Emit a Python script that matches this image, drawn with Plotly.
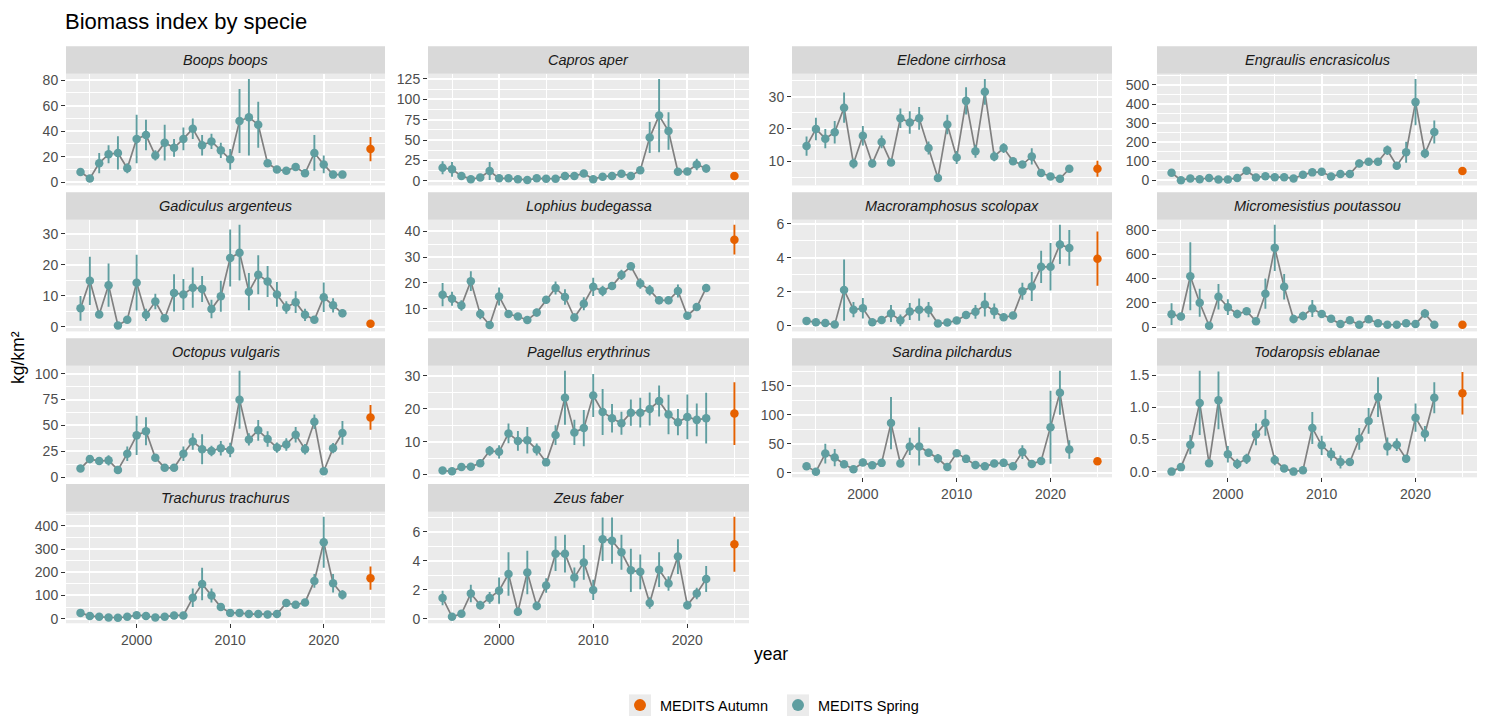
import plotly.graph_objects as go

years = list(range(1994, 2023))
autumn_year = 2025

species = ["Boops boops", "Capros aper", "Eledone cirrhosa", "Engraulis encrasicolus",
           "Gadiculus argenteus", "Lophius budegassa", "Macroramphosus scolopax", "Micromesistius poutassou",
           "Octopus vulgaris", "Pagellus erythrinus", "Sardina pilchardus", "Todaropsis eblanae",
           "Trachurus trachurus", "Zeus faber"]

boops_mean = [8, 3, 15, 22, 23, 11, 34, 37, 21, 31, 27, 34, 42, 29, 32, 25, 18, 48, 51, 45, 15, 10, 9, 12, 7, 23, 14, 6, 6]
boops_err = [2, 1.5, 8, 7, 13, 4, 19, 12, 4, 14, 7, 9, 8, 8, 6, 6, 8, 25, 30, 18, 2, 2, 2, 3, 2, 14, 7, 1, 1]
capros_mean = [16, 14, 6, 2, 4, 12, 3, 3, 2, 1, 3, 2.5, 2.5, 6, 6, 9, 2, 5, 6, 8.6, 6, 13, 53, 80, 61, 11, 11.5, 20, 15]
capros_err = [8, 9, 2, 1, 1.5, 11, 1, 1, 1, 0.5, 1, 1, 1, 2, 2, 2.5, 1, 2, 2, 2, 2, 3, 19, 45, 23, 2.5, 3, 7, 5]
eledone_mean = [14.7, 20, 17, 19, 26.6, 9.3, 17.9, 9.3, 16, 9.6, 23.3, 22, 23.3, 14.1, 4.8, 21.4, 11.2, 28.7, 13.1, 31.5, 11.5, 14.1, 10, 9, 11.5, 6.4, 5.3, 4.6, 7.7]
eledone_err = [3, 3.5, 3, 3.5, 4.7, 1.5, 3, 1.2, 2, 1, 3, 3.5, 3.5, 2, 0.5, 3, 2, 4.2, 2, 4, 1.5, 1.5, 1, 0.7, 2.5, 0.5, 0.5, 0.5, 0.5]
engraulis_mean = [39, 0, 9, 5, 12, 4, 4, 12, 49, 14, 21, 16, 16, 9, 28, 41, 44, 19, 32, 32, 88, 97, 97, 157, 76, 147, 410, 140, 253]
engraulis_err = [5, 1, 3, 2, 3, 2, 2, 3, 8, 3, 4, 3, 3, 3, 5, 6, 6, 4, 5, 5, 20, 15, 20, 25, 10, 55, 122, 25, 60]
gadiculus_mean = [5.9, 14.8, 3.9, 13.4, 0.4, 2.2, 14.2, 3.8, 8.1, 2.7, 10.9, 10.4, 12.6, 12.2, 5.7, 9.8, 22.2, 23.9, 11.3, 16.8, 14.6, 10.4, 6.2, 7.9, 3.8, 2.2, 9.5, 6.9, 4.3]
gadiculus_err = [4, 7.8, 1, 7, 0.3, 0.5, 9, 2, 2.5, 0.7, 6, 5, 6.5, 4.2, 3, 5, 9.2, 9, 6, 6.3, 5, 4, 2, 3.5, 2, 0.5, 4.8, 2.3, 1.3]
lophius_mean = [15.5, 13.9, 11.3, 20.7, 8, 3.8, 14.8, 8, 7.1, 5.7, 8.6, 13.5, 18.1, 14.6, 6.7, 12, 18.5, 16.9, 18.8, 23.1, 26.4, 19.8, 17.2, 13.3, 13.3, 16.9, 7.4, 10.7, 18.1]
lophius_err = [4.5, 2.7, 2, 3.8, 2, 0.5, 3.5, 1.5, 1, 1, 1.5, 1.5, 2.5, 3, 1.5, 2.5, 3.5, 2, 1.5, 2, 1.5, 2, 2, 1.5, 1.5, 2.5, 1, 1, 1]
macro_mean = [0.28, 0.2, 0.16, 0.06, 2.09, 0.94, 1.02, 0.2, 0.33, 0.71, 0.31, 0.83, 0.94, 0.94, 0.12, 0.18, 0.3, 0.63, 0.81, 1.24, 0.85, 0.49, 0.59, 2.03, 2.3, 3.46, 3.46, 4.78, 4.57]
macro_err = [0.05, 0.05, 0.05, 0.03, 1.8, 0.45, 0.6, 0.05, 0.1, 0.5, 0.35, 0.5, 0.65, 0.45, 0.05, 0.05, 0.08, 0.1, 0.4, 0.7, 0.45, 0.1, 0.1, 0.5, 0.85, 0.95, 1.4, 1.15, 1.05]
micro_mean = [106, 86, 419, 200, 11, 250, 164, 108, 131, 47, 275, 653, 333, 67, 92, 153, 108, 69, 25, 56, 19, 64, 31, 19, 19, 31, 25, 111, 19]
micro_err = [90, 30, 280, 115, 5, 105, 65, 35, 20, 10, 125, 190, 105, 35, 35, 70, 20, 15, 8, 10, 5, 25, 8, 5, 5, 8, 8, 35, 5]
octopus_mean = [8.2, 17.4, 15.4, 16.1, 6.9, 22.6, 40.3, 44.3, 18.7, 8.9, 8.9, 22.6, 34.4, 26.9, 25.2, 27.9, 26.2, 74.8, 36.4, 45.2, 36.7, 28.5, 31.5, 41, 26.9, 53.4, 5.6, 27.9, 42.6]
octopus_err = [3, 4, 3, 5, 2, 7, 19, 13.5, 3, 2, 2, 7, 8, 14.5, 5, 7, 7, 28, 6, 10, 7.5, 5, 6, 7.5, 5, 7, 1, 5, 11.5]
pagellus_mean = [1.2, 1.0, 2.3, 2.4, 3.4, 7.2, 6.9, 12.5, 10.2, 10.4, 7.6, 3.7, 12, 23.3, 12.8, 14.1, 24, 19, 17.1, 15.6, 18.8, 18.8, 19.9, 22.3, 18.2, 15.9, 17.5, 16.6, 17.1]
pagellus_err = [0.3, 0.3, 0.5, 0.5, 0.7, 1.5, 2, 3, 3, 4, 1.8, 0.8, 3, 8.2, 3.8, 5.5, 6.5, 7, 4.3, 3.5, 4, 4.5, 5, 4.7, 6, 4, 6.8, 5, 7.7]
sardina_mean = [11, 1.7, 33, 26, 14.5, 5.8, 17.4, 12.8, 16.9, 85.5, 15.7, 45.3, 45.3, 34.3, 24.4, 9.9, 33.7, 23.8, 13.4, 11, 15.7, 16.9, 11, 35.5, 15.1, 20.3, 78.5, 137.8, 40.1]
sardina_err = [2, 1, 17, 15, 3, 2, 3, 2, 3, 45, 3, 15, 33, 7, 8, 3, 5, 5, 3, 2, 2, 2, 2, 12, 3, 3, 63, 38, 16]
todaropsis_mean = [0.0, 0.07, 0.42, 1.07, 0.13, 1.11, 0.27, 0.12, 0.2, 0.58, 0.76, 0.18, 0.05, 0.0, 0.02, 0.68, 0.41, 0.27, 0.15, 0.15, 0.51, 0.79, 1.16, 0.39, 0.42, 0.2, 0.84, 0.59, 1.15]
todaropsis_err = [0.01, 0.02, 0.15, 0.5, 0.04, 0.45, 0.13, 0.08, 0.08, 0.17, 0.2, 0.08, 0.02, 0.01, 0.02, 0.25, 0.15, 0.1, 0.1, 0.05, 0.17, 0.2, 0.31, 0.14, 0.1, 0.06, 0.22, 0.12, 0.24]
trachurus_mean = [25, 12, 8, 5, 4, 8, 15, 12, 5, 8, 14, 14, 90, 150, 100, 50, 25, 25, 20, 20, 18, 20, 68, 60, 70, 163, 330, 153, 103]
trachurus_err = [5, 3, 2, 2, 2, 2, 3, 3, 2, 2, 3, 3, 40, 70, 30, 8, 5, 5, 4, 4, 4, 4, 10, 8, 10, 30, 110, 40, 20]
zeus_mean = [1.45, 0.15, 0.35, 1.75, 0.95, 1.45, 1.95, 3.1, 0.5, 3.2, 0.9, 2.3, 4.5, 4.5, 2.85, 3.9, 2.0, 5.5, 5.4, 4.6, 3.35, 3.25, 1.1, 3.4, 2.45, 4.3, 0.95, 1.75, 2.75]
zeus_err = [0.5, 0.1, 0.15, 0.6, 0.3, 0.4, 0.9, 1.5, 0.2, 1.5, 0.3, 0.5, 1.2, 1.3, 0.7, 1.2, 0.7, 1.5, 1.6, 1.2, 1.5, 1.2, 0.4, 1.2, 0.5, 1.2, 0.3, 0.4, 0.9]

autumn_mean = [26, 6, 7.7, 48, 0.9, 36.7, 3.94, 19, 57.7, 18.5, 19.8, 1.22, 175, 5.15]
autumn_err = [9.5, 0, 2.5, 0, 0, 5.7, 1.6, 0, 12, 9.5, 0, 0.33, 50, 1.9]

y_dtick = [20, 25, 10, 100, 10, 10, 2, 200, 25, 10, 50, 0.5, 100, 2]

spring_means = [boops_mean, capros_mean, eledone_mean, engraulis_mean, gadiculus_mean, lophius_mean,
                macro_mean, micro_mean, octopus_mean, pagellus_mean, sardina_mean, todaropsis_mean,
                trachurus_mean, zeus_mean]
spring_errs = [boops_err, capros_err, eledone_err, engraulis_err, gadiculus_err, lophius_err,
               macro_err, micro_err, octopus_err, pagellus_err, sardina_err, todaropsis_err,
               trachurus_err, zeus_err]

W, H = 1485, 725
TEAL = "#5F9EA0"
ORANGE = "#E66100"
LINE = "#808080"
FONT = "Liberation Sans, Arial, sans-serif"
TICK_SIZE = 14
STRIP_SIZE = 14.5

col_px = [(66, 385), (428, 749), (792, 1112), (1157, 1477)]
row_strip_top = [43 + 148.4 * r for r in range(4)]
STRIP_H = 28
PANEL_H = 113.5

fig = go.Figure()
shapes = []
annotations = []
layout_axes = {}

for i, name in enumerate(species):
    k = i + 1
    r, c = divmod(i, 4)
    x0p, x1p = col_px[c]
    st = row_strip_top[r]
    pt = st + STRIP_H
    pb = pt + PANEL_H
    xs = "x" if k == 1 else f"x{k}"
    ys = "y" if k == 1 else f"y{k}"

    m = spring_means[i]
    e = spring_errs[i]
    lo = min(min(a - b for a, b in zip(m, e)), autumn_mean[i] - autumn_err[i])
    hi = max(max(a + b for a, b in zip(m, e)), autumn_mean[i] + autumn_err[i])
    pad = 0.05 * (hi - lo)

    fig.add_trace(go.Scatter(x=years, y=m, mode="lines", line=dict(color=LINE, width=1.7),
                             xaxis=xs, yaxis=ys, showlegend=False, hoverinfo="skip"))
    fig.add_trace(go.Scatter(x=years, y=m, mode="markers", name="MEDITS Spring",
                             marker=dict(color=TEAL, size=8.5),
                             error_y=dict(type="data", array=e, color=TEAL, thickness=1.9, width=0),
                             xaxis=xs, yaxis=ys, showlegend=(i == 0), legendgroup="spring", legendrank=2))
    fig.add_trace(go.Scatter(x=[autumn_year], y=[autumn_mean[i]], mode="markers", name="MEDITS Autumn",
                             marker=dict(color=ORANGE, size=8.5),
                             error_y=dict(type="data", array=[autumn_err[i]], color=ORANGE, thickness=1.9, width=0),
                             xaxis=xs, yaxis=ys, showlegend=(i == 0), legendgroup="autumn", legendrank=1))

    bottom = (r == 3) or (r == 2 and c >= 2)
    xkey = "xaxis" if k == 1 else f"xaxis{k}"
    ykey = "yaxis" if k == 1 else f"yaxis{k}"
    layout_axes[xkey] = dict(
        domain=[x0p / W, x1p / W], anchor=ys, range=[1992.45, 2026.55],
        tick0=2000, dtick=10, showticklabels=bottom, ticks="outside" if bottom else "",
        ticklen=4, tickcolor="#333333", tickwidth=1,
        tickfont=dict(size=TICK_SIZE, color="#4D4D4D", family=FONT),
        showgrid=True, gridcolor="white", gridwidth=1.7,
        minor=dict(dtick=5, tick0=2000, showgrid=True, gridcolor="white", gridwidth=0.85),
        zeroline=False, showline=False, fixedrange=True)
    layout_axes[ykey] = dict(
        domain=[1 - pb / H, 1 - pt / H], anchor=xs, range=[lo - pad, hi + pad],
        tick0=0, dtick=y_dtick[i], ticks="outside", ticklen=4, tickcolor="#333333", tickwidth=1,
        tickfont=dict(size=TICK_SIZE, color="#4D4D4D", family=FONT),
        tickformat=".1f" if name == "Todaropsis eblanae" else None,
        showgrid=True, gridcolor="white", gridwidth=1.7,
        minor=dict(dtick=y_dtick[i] / 2, tick0=0, showgrid=True, gridcolor="white", gridwidth=0.85),
        zeroline=False, showline=False, fixedrange=True)

    shapes.append(dict(type="rect", xref="paper", yref="paper", x0=x0p / W, x1=x1p / W,
                       y0=1 - pt / H, y1=1 - st / H, fillcolor="#D9D9D9", line=dict(width=0)))
    annotations.append(dict(text=f"<i>{name}</i>", xref="paper", yref="paper",
                            x=(x0p + x1p) / 2 / W, y=1 - (st + STRIP_H / 2) / H,
                            xanchor="center", yanchor="middle", showarrow=False,
                            font=dict(size=STRIP_SIZE, color="#1A1A1A", family=FONT)))

annotations.append(dict(text="year", xref="paper", yref="paper", x=771 / W, y=1 - 661 / H,
                        xanchor="center", yanchor="middle", showarrow=False,
                        font=dict(size=17.5, color="black", family=FONT)))
annotations.append(dict(text="kg/km²", xref="paper", yref="paper", x=18 / W, y=1 - 360 / H,
                        xanchor="center", yanchor="middle", showarrow=False, textangle=-90,
                        font=dict(size=17.5, color="black", family=FONT)))

# legend key backgrounds (ggplot-style grey key boxes)
for kx in (640, 798):
    shapes.append(dict(type="rect", xref="paper", yref="paper",
                       x0=(kx - 11) / W, x1=(kx + 11) / W, y0=1 - (713 + 11) / H, y1=1 - (713 - 11) / H,
                       fillcolor="#EBEBEB", line=dict(width=0)))

fig.update_layout(**layout_axes)
fig.update_layout(
    width=W, height=H, autosize=False,
    margin=dict(l=0, r=0, t=0, b=0),
    paper_bgcolor="white", plot_bgcolor="#EBEBEB",
    font=dict(family=FONT, color="#4D4D4D"),
    title=dict(text="Biomass index by specie", x=65 / W, xanchor="left", y=1 - 21 / H, yanchor="middle",
               font=dict(size=22, color="black", family=FONT)),
    shapes=shapes, annotations=annotations,
    showlegend=True,
    legend=dict(orientation="h", x=620 / W, xanchor="left", y=1 - 713 / H, yanchor="middle",
                font=dict(size=14.5, color="black", family=FONT), bgcolor="rgba(0,0,0,0)",
                entrywidth=113, entrywidthmode="pixels", itemsizing="constant"),
)

fig.write_html("out.html")
